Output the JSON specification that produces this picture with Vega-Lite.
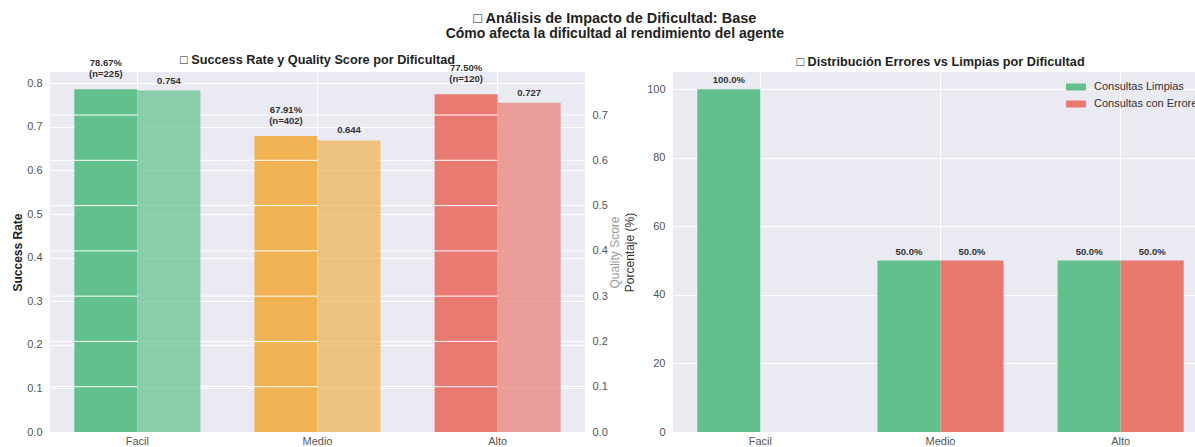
{
  "$schema": "https://vega.github.io/schema/vega-lite/v6.json",
  "padding": {"left": 11, "top": 10, "right": 0, "bottom": 0},
  "background": "#ffffff",
  "title": {
    "text": "□ Análisis de Impacto de Dificultad: Base",
    "subtitle": "Cómo afecta la dificultad al rendimiento del agente",
    "anchor": "middle",
    "dx": 5,
    "fontSize": 14.5,
    "fontWeight": "bold",
    "color": "#222222",
    "subtitleFontSize": 14,
    "subtitleFontWeight": "bold",
    "subtitleColor": "#222222",
    "subtitlePadding": 1,
    "offset": 12
  },
  "datasets": {
    "perf": [
      {"dificultad": "Facil", "serie": "Success Rate", "valor": 0.7867, "etiqueta": "78.67%\n(n=225)"},
      {"dificultad": "Facil", "serie": "Quality Score", "valor": 0.754, "etiqueta": "0.754"},
      {"dificultad": "Medio", "serie": "Success Rate", "valor": 0.6791, "etiqueta": "67.91%\n(n=402)"},
      {"dificultad": "Medio", "serie": "Quality Score", "valor": 0.644, "etiqueta": "0.644"},
      {"dificultad": "Alto", "serie": "Success Rate", "valor": 0.775, "etiqueta": "77.50%\n(n=120)"},
      {"dificultad": "Alto", "serie": "Quality Score", "valor": 0.727, "etiqueta": "0.727"}
    ],
    "qticks": [
      {"valor": 0.1}, {"valor": 0.2}, {"valor": 0.3}, {"valor": 0.4},
      {"valor": 0.5}, {"valor": 0.6}, {"valor": 0.7}
    ],
    "dist": [
      {"dificultad": "Facil", "tipo": "Consultas Limpias", "pct": 100, "etiqueta": "100.0%"},
      {"dificultad": "Facil", "tipo": "Consultas con Errores", "pct": 0, "etiqueta": ""},
      {"dificultad": "Medio", "tipo": "Consultas Limpias", "pct": 50, "etiqueta": "50.0%"},
      {"dificultad": "Medio", "tipo": "Consultas con Errores", "pct": 50, "etiqueta": "50.0%"},
      {"dificultad": "Alto", "tipo": "Consultas Limpias", "pct": 50, "etiqueta": "50.0%"},
      {"dificultad": "Alto", "tipo": "Consultas con Errores", "pct": 50, "etiqueta": "50.0%"}
    ]
  },
  "bounds": "flush",
  "spacing": 88,
  "hconcat": [
    {
      "width": 535,
      "height": 360,
      "title": {
        "text": "□ Success Rate y Quality Score por Dificultad",
        "fontSize": 12.7,
        "fontWeight": "bold",
        "color": "#222222",
        "anchor": "middle",
        "frame": "group",
        "offset": -9
      },
      "data": {"name": "perf"},
      "layer": [
        {
          "transform": [{"filter": "datum.serie === 'Success Rate'"}],
          "layer": [
            {
              "mark": {"type": "bar"},
              "encoding": {
                "x": {"field": "dificultad", "type": "nominal", "sort": ["Facil", "Medio", "Alto"], "scale": {"paddingInner": 0.3, "paddingOuter": 0.135}, "axis": {"title": null, "labelAngle": 0, "bandPosition": 0.5, "grid": true, "labelPadding": 3}},
                "xOffset": {"field": "serie", "type": "nominal", "scale": {"domain": ["Success Rate", "Quality Score"], "paddingInner": 0, "paddingOuter": 0}},
                "y": {"field": "valor", "type": "quantitative", "scale": {"domain": [0, 0.826], "nice": false, "zero": true},
                  "axis": {"orient": "left", "title": "Success Rate", "titleFontWeight": "bold", "titleColor": "#222222", "titleFontSize": 12, "titlePadding": 2, "values": [0, 0.1, 0.2, 0.3, 0.4, 0.5, 0.6, 0.7, 0.8], "format": ".1f", "grid": true, "labelPadding": 8}},
                "color": {"field": "dificultad", "type": "nominal", "scale": {"domain": ["Facil", "Medio", "Alto"], "range": ["#62c08c", "#f0b253", "#e87a72"]}, "legend": null}
              }
            },
            {
              "mark": {"type": "text", "baseline": "bottom", "align": "center", "dy": -21, "fontSize": 9.5, "fontWeight": "bold", "color": "#333333", "lineBreak": "\n", "lineHeight": 11},
              "encoding": {
                "x": {"field": "dificultad", "type": "nominal", "sort": ["Facil", "Medio", "Alto"], "scale": {"paddingInner": 0.3, "paddingOuter": 0.135}, "axis": {"title": null, "labelAngle": 0, "bandPosition": 0.5, "grid": true, "labelPadding": 3}},
                "xOffset": {"field": "serie", "type": "nominal", "scale": {"domain": ["Success Rate", "Quality Score"], "paddingInner": 0, "paddingOuter": 0}},
                "y": {"field": "valor", "type": "quantitative", "scale": {"domain": [0, 0.826], "nice": false, "zero": true},
                  "axis": {"orient": "left", "title": "Success Rate", "titleFontWeight": "bold", "titleColor": "#222222", "titleFontSize": 12, "titlePadding": 2, "values": [0, 0.1, 0.2, 0.3, 0.4, 0.5, 0.6, 0.7, 0.8], "format": ".1f", "grid": true, "labelPadding": 8}},
                "text": {"field": "etiqueta"}
              }
            }
          ]
        },
        {
          "layer": [
            {
              "data": {"name": "qticks"},
              "mark": {"type": "rule", "color": "#ffffff", "strokeWidth": 1},
              "encoding": {
                "y": {"field": "valor", "type": "quantitative", "scale": {"domain": [0, 0.795], "nice": false, "zero": true},
                  "axis": {"orient": "right", "title": "Quality Score", "titleAngle": 270, "titleFontWeight": "normal", "titleColor": "#999999", "titleFontSize": 12, "titlePadding": 14, "values": [0, 0.1, 0.2, 0.3, 0.4, 0.5, 0.6, 0.7], "format": ".1f", "grid": false, "labelPadding": 7}}
              }
            },
            {
              "transform": [{"filter": "datum.serie === 'Quality Score'"}],
              "mark": {"type": "bar", "opacity": 0.7},
              "encoding": {
                "x": {"field": "dificultad", "type": "nominal", "sort": ["Facil", "Medio", "Alto"], "scale": {"paddingInner": 0.3, "paddingOuter": 0.135}, "axis": {"title": null, "labelAngle": 0, "bandPosition": 0.5, "grid": true, "labelPadding": 3}},
                "xOffset": {"field": "serie", "type": "nominal", "scale": {"domain": ["Success Rate", "Quality Score"], "paddingInner": 0, "paddingOuter": 0}},
                "y": {"field": "valor", "type": "quantitative", "scale": {"domain": [0, 0.795], "nice": false, "zero": true},
                  "axis": {"orient": "right", "title": "Quality Score", "titleAngle": 270, "titleFontWeight": "normal", "titleColor": "#999999", "titleFontSize": 12, "titlePadding": 14, "values": [0, 0.1, 0.2, 0.3, 0.4, 0.5, 0.6, 0.7], "format": ".1f", "grid": false, "labelPadding": 7}},
                "color": {"field": "dificultad", "type": "nominal", "scale": {"domain": ["Facil", "Medio", "Alto"], "range": ["#62c08c", "#f0b253", "#e87a72"]}, "legend": null}
              }
            },
            {
              "transform": [{"filter": "datum.serie === 'Quality Score'"}],
              "mark": {"type": "text", "baseline": "bottom", "align": "center", "dy": -5, "fontSize": 9.5, "fontWeight": "bold", "color": "#333333"},
              "encoding": {
                "x": {"field": "dificultad", "type": "nominal", "sort": ["Facil", "Medio", "Alto"], "scale": {"paddingInner": 0.3, "paddingOuter": 0.135}, "axis": {"title": null, "labelAngle": 0, "bandPosition": 0.5, "grid": true, "labelPadding": 3}},
                "xOffset": {"field": "serie", "type": "nominal", "scale": {"domain": ["Success Rate", "Quality Score"], "paddingInner": 0, "paddingOuter": 0}},
                "y": {"field": "valor", "type": "quantitative", "scale": {"domain": [0, 0.795], "nice": false, "zero": true},
                  "axis": {"orient": "right", "title": "Quality Score", "titleAngle": 270, "titleFontWeight": "normal", "titleColor": "#999999", "titleFontSize": 12, "titlePadding": 14, "values": [0, 0.1, 0.2, 0.3, 0.4, 0.5, 0.6, 0.7], "format": ".1f", "grid": false, "labelPadding": 7}},
                "text": {"field": "etiqueta"}
              }
            }
          ]
        }
      ],
      "resolve": {"scale": {"y": "independent"}}
    },
    {
      "width": 535,
      "height": 360,
      "title": {
        "text": "□ Distribución Errores vs Limpias por Dificultad",
        "fontSize": 12.7,
        "fontWeight": "bold",
        "color": "#222222",
        "anchor": "middle",
        "frame": "group",
        "offset": 3
      },
      "data": {"name": "dist"},
      "encoding": {
        "x": {"field": "dificultad", "type": "nominal", "sort": ["Facil", "Medio", "Alto"], "scale": {"paddingInner": 0.3, "paddingOuter": 0.135}, "axis": {"title": null, "labelAngle": 0, "bandPosition": 0.5, "grid": true, "labelPadding": 3}},
        "xOffset": {"field": "tipo", "type": "nominal", "scale": {"domain": ["Consultas Limpias", "Consultas con Errores"], "paddingInner": 0, "paddingOuter": 0}},
        "y": {"field": "pct", "type": "quantitative", "scale": {"domain": [0, 105], "nice": false, "zero": true},
          "axis": {"title": "Porcentaje (%)", "titleFontWeight": "normal", "titleColor": "#333333", "titleFontSize": 12, "titlePadding": 10, "values": [0, 20, 40, 60, 80, 100], "grid": true, "labelPadding": 8}}
      },
      "layer": [
        {
          "mark": {"type": "bar"},
          "encoding": {
            "color": {"field": "tipo", "type": "nominal", "scale": {"domain": ["Consultas Limpias", "Consultas con Errores"], "range": ["#62c08c", "#e8796f"]},
              "legend": {"title": null, "orient": "top-right", "offset": 5, "symbolType": "M-1,-0.35H1V0.35H-1Z", "symbolSize": 400, "symbolStrokeWidth": 0, "labelFontSize": 11, "labelColor": "#333333", "labelOffset": 8, "rowPadding": 2}}
          }
        },
        {
          "transform": [{"filter": "datum.etiqueta !== ''"}],
          "mark": {"type": "text", "baseline": "bottom", "align": "center", "dy": -4, "fontSize": 9.5, "fontWeight": "bold", "color": "#333333"},
          "encoding": {"text": {"field": "etiqueta"}}
        }
      ]
    }
  ],
  "resolve": {"scale": {"x": "independent", "y": "independent", "color": "independent", "xOffset": "independent"}},
  "config": {
    "font": "Liberation Sans",
    "view": {"fill": "#EAEAF2", "stroke": null},
    "axis": {
      "domain": false,
      "ticks": false,
      "gridColor": "#ffffff",
      "gridWidth": 1,
      "gridOpacity": 1,
      "labelColor": "#555555",
      "labelFontSize": 11,
      "labelFont": "Liberation Sans",
      "titleFont": "Liberation Sans"
    },
    "legend": {"labelFont": "Liberation Sans"}
  }
}
